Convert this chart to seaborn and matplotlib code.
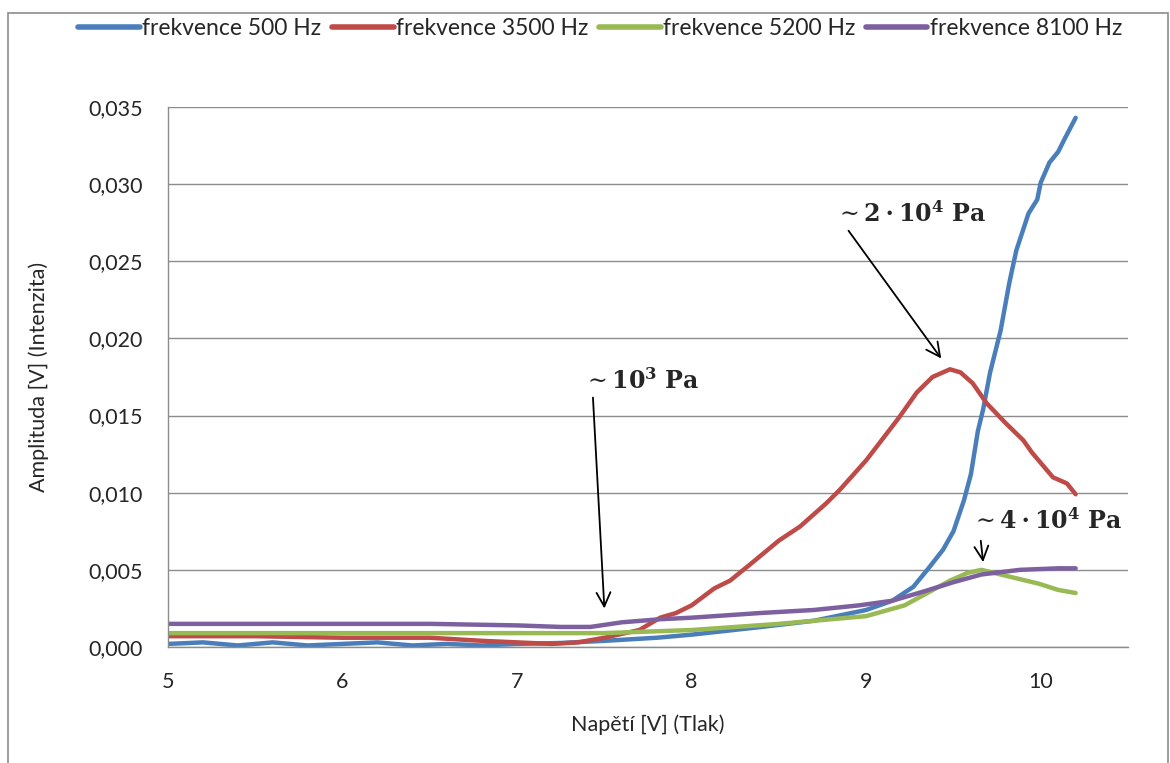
import pandas as pd
import matplotlib
matplotlib.use('Agg')
import matplotlib.pyplot as plt
import seaborn as sns
from matplotlib.ticker import FuncFormatter, MultipleLocator
from matplotlib.patches import Rectangle

series = ['frekvence 500 Hz', 'frekvence 3500 Hz', 'frekvence 5200 Hz', 'frekvence 8100 Hz']
colors = ['#4A7EBB', '#BE4B48', '#98B954', '#7D60A0']

x_500 = [5.0, 5.2, 5.4, 5.6, 5.8, 6.0, 6.2, 6.4, 6.6, 6.8, 7.0, 7.25, 7.5, 7.8, 8.0, 8.4, 8.7,
         9.0, 9.15, 9.27, 9.35, 9.44, 9.5, 9.56, 9.6, 9.64, 9.67, 9.71, 9.77, 9.82, 9.86, 9.93,
         9.98, 10.0, 10.05, 10.1, 10.14, 10.2]
y_500 = [0.0002, 0.0003, 0.0001, 0.0003, 0.0001, 0.0002, 0.0003, 0.0001, 0.0002, 0.0001, 0.0002,
         0.00026, 0.0004, 0.0006, 0.0008, 0.0013, 0.0017, 0.0024, 0.0030, 0.0039, 0.0050, 0.0063,
         0.0075, 0.0095, 0.0112, 0.0140, 0.0154, 0.0178, 0.0205, 0.0236, 0.0257, 0.0281, 0.0290,
         0.0301, 0.0314, 0.0321, 0.0330, 0.0343]

x_3500 = [5.0, 5.5, 6.0, 6.5, 6.8, 7.0, 7.2, 7.35, 7.5, 7.7, 7.82, 7.91, 8.0, 8.13, 8.22, 8.34,
          8.5, 8.62, 8.77, 8.85, 9.0, 9.19, 9.29, 9.38, 9.48, 9.54, 9.61, 9.69, 9.8, 9.9, 9.95,
          10.07, 10.15, 10.2]
y_3500 = [0.0007, 0.0007, 0.0006, 0.0006, 0.0004, 0.0003, 0.0002, 0.0003, 0.0006, 0.0011, 0.0019,
          0.0022, 0.0027, 0.0038, 0.0043, 0.0054, 0.0069, 0.0078, 0.0093, 0.0102, 0.0121, 0.0149,
          0.0165, 0.0175, 0.0180, 0.0178, 0.0171, 0.0158, 0.0145, 0.0134, 0.0126, 0.0110, 0.0106,
          0.0099]

x_5200 = [5.0, 6.0, 7.0, 7.5, 8.0, 8.5, 9.0, 9.22, 9.35, 9.48, 9.58, 9.66, 9.77, 9.88, 9.99,
          10.1, 10.2]
y_5200 = [0.0009, 0.0009, 0.0009, 0.0009, 0.0011, 0.0015, 0.0020, 0.0027, 0.0035, 0.0043, 0.0048,
          0.0050, 0.0047, 0.0044, 0.0041, 0.0037, 0.0035]

x_8100 = [5.0, 5.5, 6.0, 6.5, 7.0, 7.25, 7.42, 7.6, 7.82, 8.0, 8.39, 8.7, 8.96, 9.15, 9.33, 9.5,
          9.66, 9.88, 10.1, 10.2]
y_8100 = [0.0015, 0.0015, 0.0015, 0.0015, 0.0014, 0.0013, 0.0013, 0.0016, 0.0018, 0.0019, 0.0022,
          0.0024, 0.0027, 0.0030, 0.0036, 0.0042, 0.0047, 0.0050, 0.0051, 0.0051]

frames = []
for name, xs, ys in zip(series, [x_500, x_3500, x_5200, x_8100], [y_500, y_3500, y_5200, y_8100]):
    frames.append(pd.DataFrame({'napeti': xs, 'amplituda': ys, 'serie': name}))
df = pd.concat(frames, ignore_index=True)

sns.set_style('white')
plt.rcParams['font.family'] = ['Lato', 'DejaVu Sans']
plt.rcParams['mathtext.fontset'] = 'dejavuserif'

fig = plt.figure(figsize=(11.7, 7.63), dpi=100)
ax = fig.add_axes([168 / 1170, 1 - 647 / 763, 960 / 1170, 540 / 763])

sns.lineplot(data=df, x='napeti', y='amplituda', hue='serie', palette=colors, sort=False,
             estimator=None, linewidth=3.2, ax=ax)

ax.set_xlim(5, 10.5)
ax.set_ylim(0, 0.035)
ax.xaxis.set_major_locator(MultipleLocator(1))
ax.yaxis.set_major_locator(MultipleLocator(0.005))
ax.yaxis.set_major_formatter(FuncFormatter(lambda v, p: f'{v:.3f}'.replace('.', ',')))
ax.grid(axis='y', color='#8c8c8c', linewidth=1)
ax.set_axisbelow(True)
for s in ['top', 'right']:
    ax.spines[s].set_visible(False)
for s in ['left', 'bottom']:
    ax.spines[s].set_color('#8c8c8c')
    ax.spines[s].set_linewidth(1)
ax.tick_params(axis='both', direction='out', length=6, color='#8c8c8c', labelsize=15.5)
ax.tick_params(axis='y', pad=12)
ax.tick_params(axis='x', pad=12)

ax.set_xlabel('Napětí [V] (Tlak)', fontsize=15.5, labelpad=16)
ax.set_ylabel('Amplituda [V] (Intenzita)', fontsize=15.5, labelpad=28)

ax.legend(loc='center', bbox_to_anchor=(0.513, 0.963), bbox_transform=fig.transFigure, ncol=4,
          frameon=False, fontsize=16.5, handlelength=2.7, handletextpad=0.1, columnspacing=0.45,
          borderaxespad=0)
for ln in ax.get_legend().get_lines():
    ln.set_linewidth(4)

arrow = dict(arrowstyle='->', color='black', lw=1.3, mutation_scale=25)
ax.annotate(r'$\sim \mathbf{10^3\ Pa}$', xy=(7.50, 0.0025), xytext=(7.38, 0.0173),
            ha='left', va='center', fontsize=17,
            arrowprops=dict(arrow, shrinkA=1, shrinkB=0, relpos=(0.08, 0)))
ax.annotate(r'$\sim \mathbf{2\cdot 10^4\ Pa}$', xy=(9.43, 0.0187), xytext=(8.82, 0.0281),
            ha='left', va='center', fontsize=17,
            arrowprops=dict(arrow, shrinkA=1, shrinkB=0, relpos=(0.07, 0)))
ax.annotate(r'$\sim \mathbf{4\cdot 10^4\ Pa}$', xy=(9.67, 0.0055), xytext=(9.6, 0.0082),
            ha='left', va='center', fontsize=17,
            arrowprops=dict(arrow, shrinkA=3, shrinkB=0, relpos=(0.06, 0)))

fig.patches.append(Rectangle((8 / 1170, -0.01), 1160 / 1170, 1 - 13 / 763 + 0.01,
                             transform=fig.transFigure, fill=False, edgecolor='#8c8c8c', lw=1.2))

fig.savefig('out.png', dpi=100)
